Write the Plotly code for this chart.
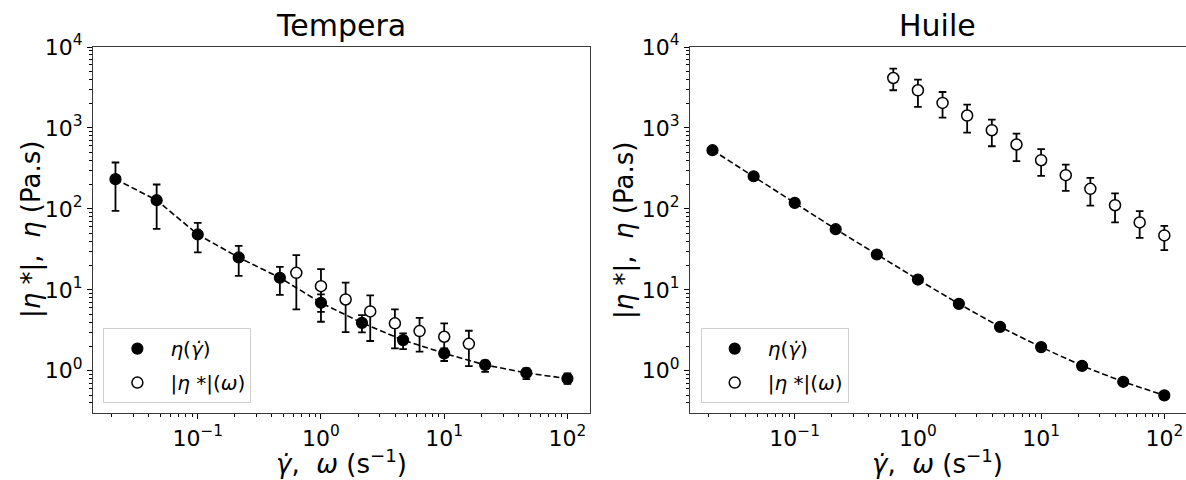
import plotly.graph_objects as go

# ---------------- data ----------------
shear_rate = [0.0215, 0.0464, 0.1, 0.215, 0.464, 1.0, 2.15, 4.64, 10.0, 21.5, 46.4, 100.0]
omega_t = [0.631, 1.0, 1.585, 2.51, 3.98, 6.31, 10.0, 15.85]
omega_h = [0.631, 1.0, 1.585, 2.51, 3.98, 6.31, 10.0, 15.85, 25.1, 39.8, 63.1, 100.0]

# Tempera : steady viscosity eta(gamma_dot)
t_eta = [233, 128, 48.3, 25.1, 14.1, 6.91, 3.91, 2.39, 1.64, 1.18, 0.94, 0.80]
t_eta_hi = [374, 200, 67, 34.9, 19.2, 8.77, 4.87, 2.89, 1.89, 1.33, 1.07, 0.93]
t_eta_lo = [94.4, 56.6, 29, 14.9, 8.67, 4.03, 2.98, 1.85, 1.32, 0.97, 0.79, 0.69]
# Tempera : complex viscosity |eta*|(omega)
t_cx = [16.2, 11.1, 7.6, 5.41, 3.85, 3.09, 2.63, 2.15]
t_cx_hi = [26.8, 18.0, 12.3, 8.53, 5.73, 4.51, 3.85, 3.12]
t_cx_lo = [5.73, 5.35, 3.0, 2.33, 1.89, 1.72, 1.59, 1.14]

# Huile : steady viscosity
h_eta = [531, 253, 118.6, 56.1, 27.3, 13.4, 6.71, 3.49, 1.96, 1.15, 0.73, 0.497]
# Huile : complex viscosity
h_cx = [4140, 2920, 2037, 1423, 937, 624, 399, 261, 177, 111, 68, 47]
h_cx_hi = [5410, 3960, 2780, 1945, 1270, 853, 546, 353, 241, 155, 93.8, 61.7]
h_cx_lo = [2920, 1816, 1343, 877, 594, 388, 255, 167, 110, 68, 43.8, 30.9]

panel_titles = ["Tempera", "Huile"]
x_tickvals = [0.1, 1, 10, 100]
x_ticktext = ["10<sup>\u22121</sup>", "10<sup>0</sup>", "10<sup>1</sup>", "10<sup>2</sup>"]
y_tickvals = [1, 10, 100, 1000, 10000]
y_ticktext = ["10<sup>0</sup>", "10<sup>1</sup>", "10<sup>2</sup>", "10<sup>3</sup>", "10<sup>4</sup>"]

name_eta = "<i>\u03b7</i>(<i>\u03b3\u0307</i>)"
name_cx = "|<i>\u03b7</i> *|(<i>\u03c9</i>)"
xtitle = "<i>\u03b3\u0307</i>,  <i>\u03c9</i> (s<sup>\u22121</sup>)"
ytitle = "|<i>\u03b7</i> *|,  <i>\u03b7</i> (Pa.s)"

FONT = "DejaVu Sans"


def minor_vals(lo_exp, hi_exp):
    out = []
    for e in range(lo_exp, hi_exp + 1):
        for m in range(2, 10):
            out.append(m * 10.0 ** e)
    return out


def err(y, hi, lo):
    return dict(type="data", symmetric=False,
                array=[h - v for h, v in zip(hi, y)],
                arrayminus=[v - l for v, l in zip(y, lo)],
                color="black", thickness=1.8, width=3.8)


DASH = dict(color="black", dash="6px,3px", width=1.6)

fig = go.Figure()

# ---- left panel (Tempera)
fig.add_trace(go.Scatter(x=shear_rate, y=t_eta, mode="lines", line=DASH,
                         showlegend=False, xaxis="x", yaxis="y", hoverinfo="skip"))
fig.add_trace(go.Scatter(x=shear_rate, y=t_eta, mode="markers", name=name_eta,
                         legendgroup="a",
                         marker=dict(symbol="circle", size=11, color="black",
                                     line=dict(color="black", width=1.2)),
                         error_y=err(t_eta, t_eta_hi, t_eta_lo),
                         xaxis="x", yaxis="y", legend="legend"))
fig.add_trace(go.Scatter(x=omega_t, y=t_cx, mode="markers", name=name_cx,
                         legendgroup="b",
                         marker=dict(symbol="circle", size=11, color="white",
                                     line=dict(color="black", width=1.5)),
                         error_y=err(t_cx, t_cx_hi, t_cx_lo),
                         xaxis="x", yaxis="y", legend="legend"))

# ---- right panel (Huile)
fig.add_trace(go.Scatter(x=shear_rate, y=h_eta, mode="lines", line=DASH,
                         showlegend=False, xaxis="x2", yaxis="y2", hoverinfo="skip"))
fig.add_trace(go.Scatter(x=shear_rate, y=h_eta, mode="markers", name=name_eta,
                         legendgroup="c",
                         marker=dict(symbol="circle", size=11, color="black",
                                     line=dict(color="black", width=1.2)),
                         xaxis="x2", yaxis="y2", legend="legend2"))
fig.add_trace(go.Scatter(x=omega_h, y=h_cx, mode="markers", name=name_cx,
                         legendgroup="d",
                         marker=dict(symbol="circle", size=11, color="white",
                                     line=dict(color="black", width=1.5)),
                         error_y=err(h_cx, h_cx_hi, h_cx_lo),
                         xaxis="x2", yaxis="y2", legend="legend2"))

SPINE = "#3a3a3a"
TICKFONT = dict(family=FONT, size=22, color="black")


def xaxis(domain, rng, anchor, mirror=True):
    return dict(type="log", domain=domain, range=rng, anchor=anchor, automargin=False,
                tickmode="array", tickvals=x_tickvals, ticktext=x_ticktext,
                ticks="outside", ticklen=5, tickwidth=1.1, tickcolor="black",
                minor=dict(tickmode="array", tickvals=minor_vals(-2, 2), ticks="outside",
                           ticklen=2.8, tickwidth=0.9, tickcolor="black", showgrid=False),
                showline=True, linecolor=SPINE, linewidth=1.3, mirror=mirror,
                showgrid=False, zeroline=False, tickfont=TICKFONT)


def yaxis(domain, anchor, mirror=True):
    return dict(type="log", domain=domain, range=[-0.522, 4.0], anchor=anchor, automargin=False,
                tickmode="array", tickvals=y_tickvals, ticktext=y_ticktext,
                ticks="outside", ticklen=5, tickwidth=1.1, tickcolor="black",
                minor=dict(tickmode="array", tickvals=minor_vals(-1, 3), ticks="outside",
                           ticklen=2.8, tickwidth=0.9, tickcolor="black", showgrid=False),
                showline=True, linecolor=SPINE, linewidth=1.3, mirror=mirror,
                showgrid=False, zeroline=False, tickfont=TICKFONT)


d1 = [0.0, 0.4547]
d2 = [0.5462, 1.0]

legend_style = dict(font=dict(family=FONT, size=20, color="black"),
                    bgcolor="rgba(255,255,255,0.8)", bordercolor="#d0d0d0", borderwidth=1,
                    xanchor="left", yanchor="top", itemwidth=56,
                    traceorder="grouped", tracegroupgap=5)

TITLEFONT = dict(family=FONT, size=30, color="black")
AXFONT = dict(family=FONT, size=26, color="black")

annotations = []
for d, t in [(d1, panel_titles[0]), (d2, panel_titles[1])]:
    annotations.append(dict(text=t, xref="paper", yref="paper", x=sum(d) / 2, y=1.0,
                            xanchor="center", yanchor="bottom", yshift=2,
                            showarrow=False, font=TITLEFONT))
    annotations.append(dict(text=xtitle, xref="paper", yref="paper", x=sum(d) / 2, y=0.0,
                            xanchor="center", yanchor="middle", yshift=-49,
                            showarrow=False, font=AXFONT))
annotations.append(dict(text=ytitle, xref="paper", yref="paper", x=d1[0], y=0.5,
                        xanchor="center", yanchor="middle", xshift=-62, textangle=-90,
                        showarrow=False, font=AXFONT))
annotations.append(dict(text=ytitle, xref="paper", yref="paper", x=d2[0], y=0.5,
                        xanchor="center", yanchor="middle", xshift=-66, textangle=-90,
                        showarrow=False, font=AXFONT))

fig.update_layout(
    width=1186, height=480,
    margin=dict(l=93, r=0, t=47, b=67, autoexpand=False),
    paper_bgcolor="white", plot_bgcolor="white",
    font=dict(family=FONT, color="black"),
    xaxis=xaxis(d1, [-1.85, 2.183], "y"),
    yaxis=yaxis([0, 1], "x"),
    xaxis2=xaxis(d2, [-1.85, 2.176], "y2"),
    yaxis2=yaxis([0, 1], "x2", mirror=False),
    legend=dict(x=0.0095, y=0.232, **legend_style),
    legend2=dict(x=0.556, y=0.232, **legend_style),
    annotations=annotations,
)

fig.write_html("out.html", config={"displayModeBar": False},
               post_script="document.body.style.margin='0';document.body.style.overflow='hidden';")
